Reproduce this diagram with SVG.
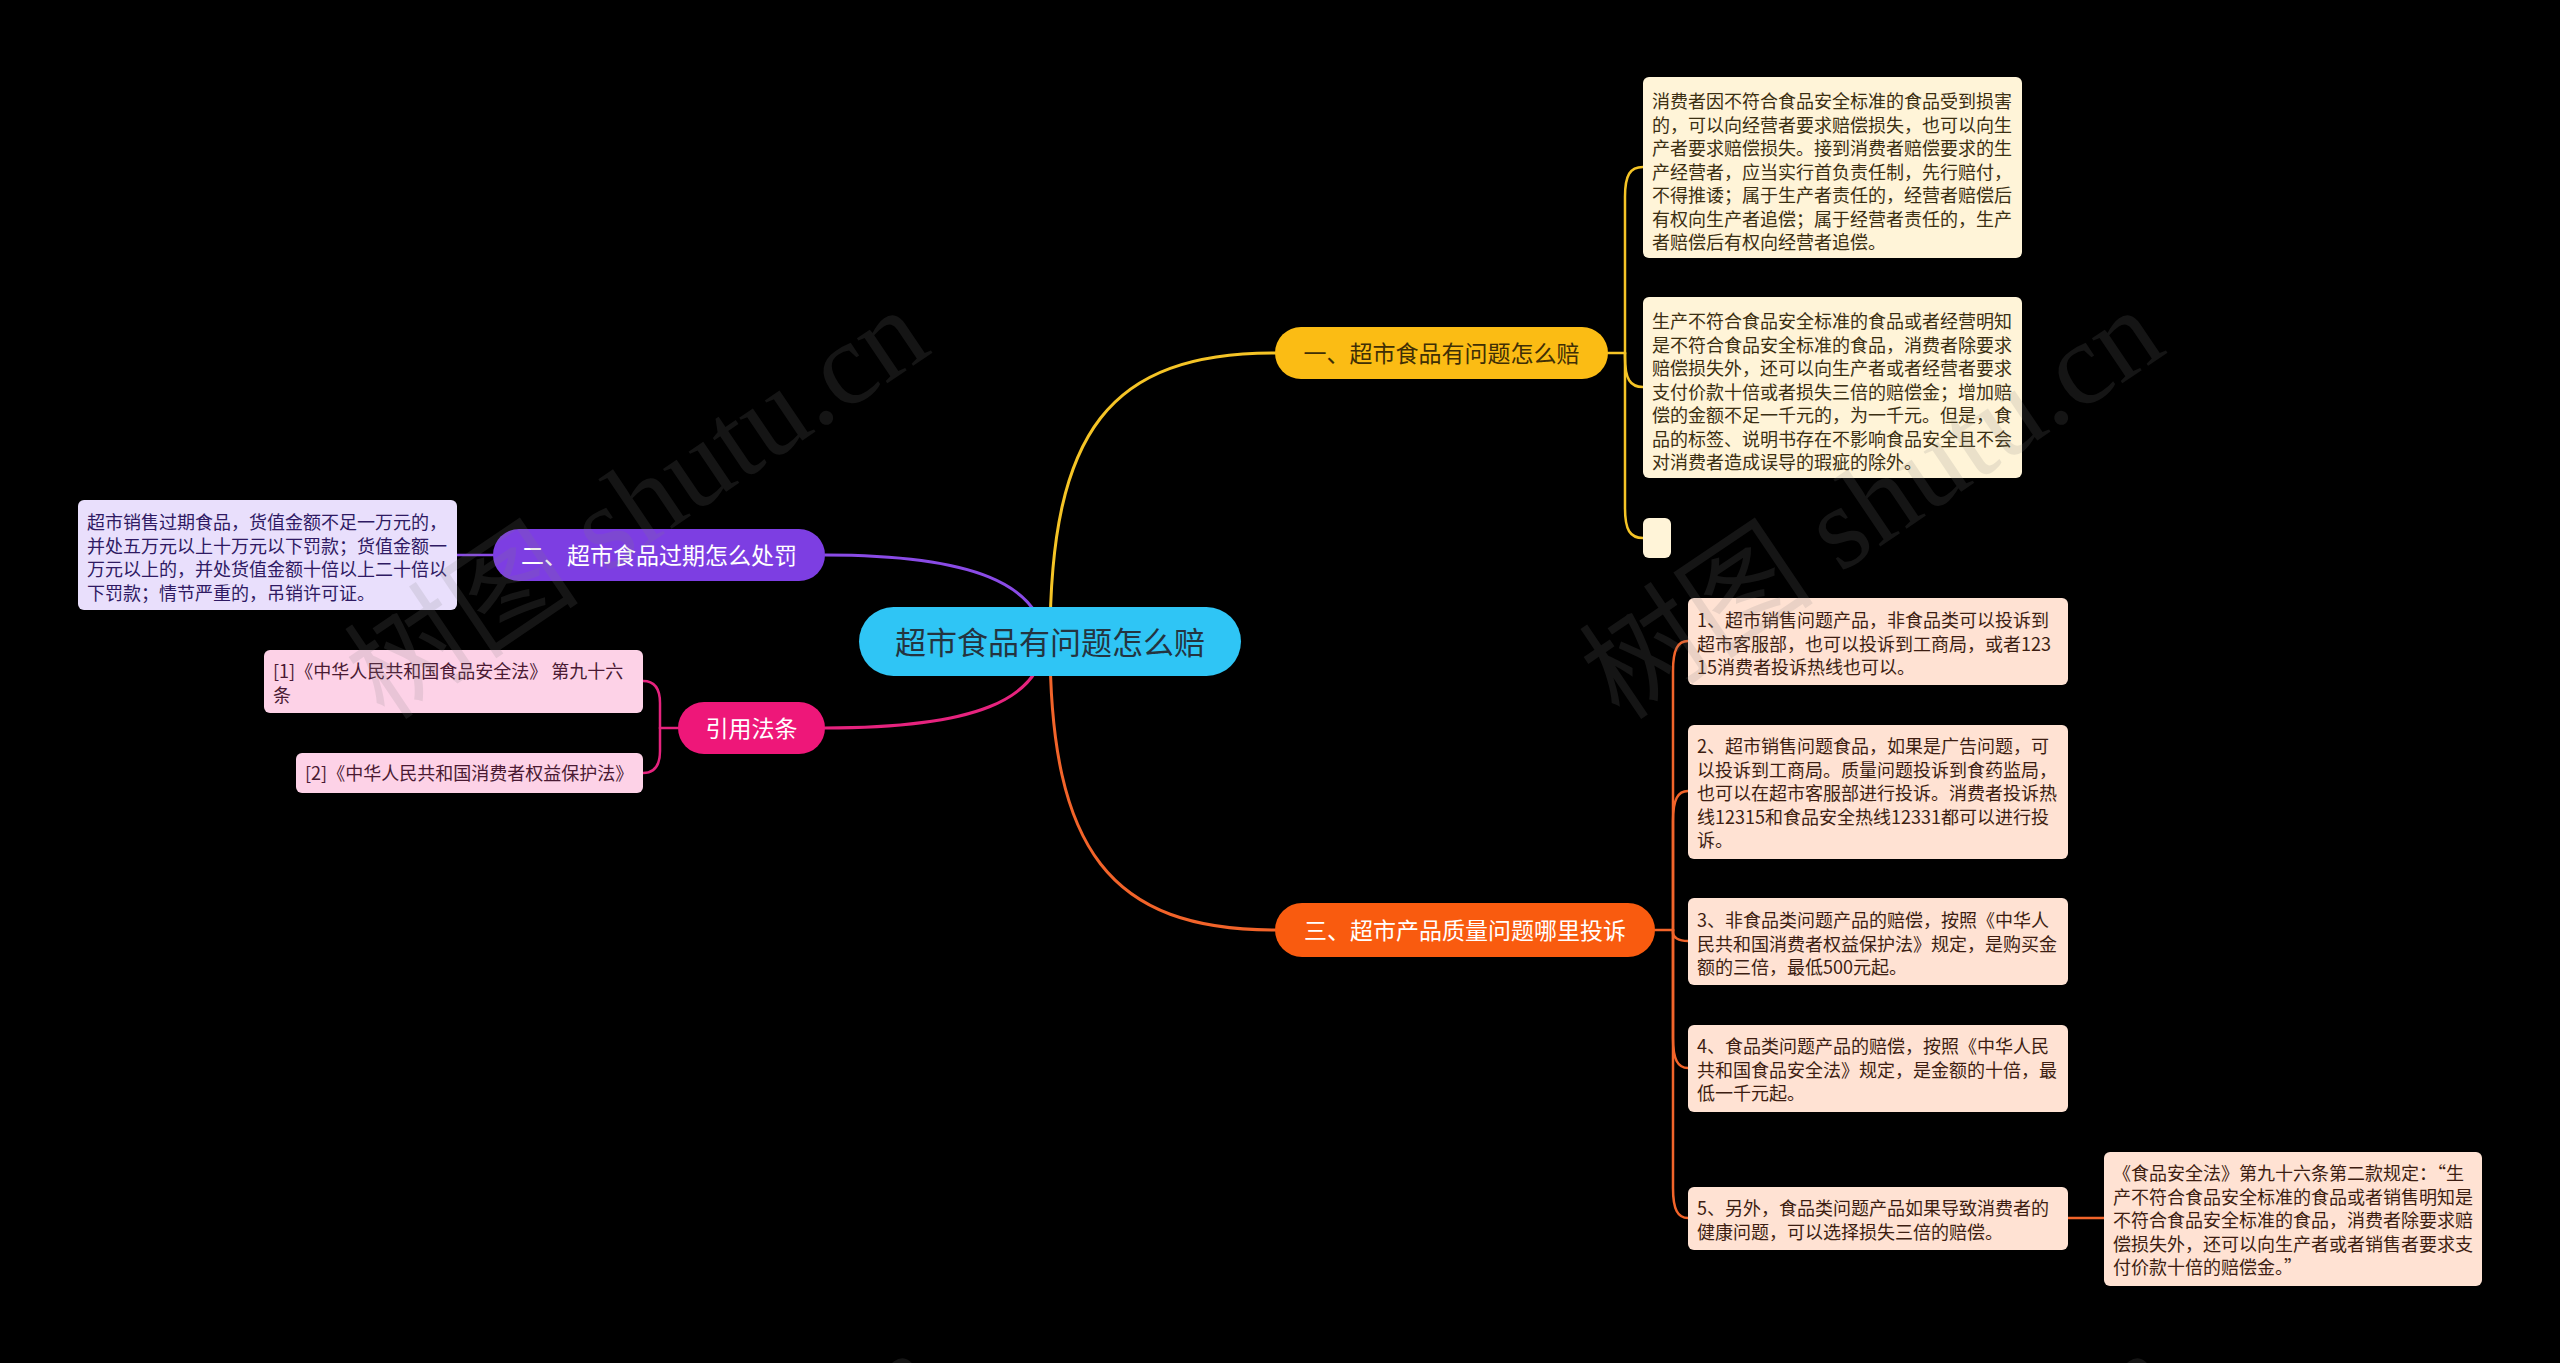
<svg xmlns="http://www.w3.org/2000/svg" width="2560" height="1363" viewBox="0 0 2560 1363">
<style>
text{font-family:"Noto Sans CJK SC","Noto Sans",sans-serif}
.t18{font-size:18px}
.wm{font-family:"Liberation Serif","Noto Sans CJK SC",serif;font-size:118px;fill:#808080;opacity:0.16}
.yb{fill:#FFF4D8}
.ob{fill:#FFE2D3}
.pb{fill:#E9DFFC}
.kb{fill:#FDD2E7}
.ytx{fill:#3B2F12}
.otx{fill:#3D1E12}
.ptx{fill:#2F1A63}
.ktx{fill:#4A1A33}
.c{fill:none;stroke-linecap:round}
</style>
<rect width="2560" height="1363" fill="#000"/>
<g id="connectors">
<path class="c" d="M1050 642 C1050 430,1110 353,1275 353" stroke="#F5C426" stroke-width="3"/>
<path class="c" d="M1050 642 C1050 850,1110 930,1275 930" stroke="#F2642A" stroke-width="3"/>
<path class="c" d="M825 555 C975 555,1040 585,1045 642" stroke="#8A4BE6" stroke-width="3"/>
<path class="c" d="M825 728 C975 728,1040 700,1045 642" stroke="#E6237E" stroke-width="3"/>
<g stroke="#F5C426" stroke-width="2.5" class="c">
<path d="M1608 353 H1625"/>
<path d="M1625 353 V197 C1625 175,1630 167,1643 167"/>
<path d="M1625 353 V357 C1625 379,1630 387,1643 387"/>
<path d="M1625 353 V508 C1625 530,1630 538,1643 538"/>
</g>
<g stroke="#F2642A" stroke-width="2.5" class="c">
<path d="M1655 930 H1673"/>
<path d="M1673 930 V671 C1673 649,1678 641,1688 641"/>
<path d="M1673 930 V821 C1673 799,1678 791,1688 791"/>
<path d="M1673 930 V933 C1673 937,1678 941,1688 941"/>
<path d="M1673 930 V1038 C1673 1060,1678 1068,1688 1068"/>
<path d="M1673 930 V1188 C1673 1210,1678 1218,1688 1218"/>
<path d="M2068 1218 H2104"/>
</g>
<path class="c" d="M493 555 H457" stroke="#8A4BE6" stroke-width="2.5"/>
<g stroke="#E6237E" stroke-width="2.5" class="c">
<path d="M678 728 H660"/>
<path d="M660 728 V703 C660 689,655 681,643 681"/>
<path d="M660 728 V751 C660 765,655 773,643 773"/>
</g>
</g>
<g id="root">
<rect x="859" y="607" width="382" height="69" rx="34.5" fill="#2FC5F5"/>
<text x="1050" y="654" font-size="31" text-anchor="middle" fill="#243440">超市食品有问题怎么赔</text>
</g>
<g id="n1">
<rect x="1275" y="327" width="333" height="52" rx="26" fill="#FBBC14"/>
<text x="1441.5" y="361.5" font-size="23" text-anchor="middle" fill="#3F2F05">一、超市食品有问题怎么赔</text>
</g>
<g id="n3">
<rect x="1275" y="903" width="380" height="54" rx="27" fill="#F95B0F"/>
<text x="1465" y="938.5" font-size="23" text-anchor="middle" fill="#fff">三、超市产品质量问题哪里投诉</text>
</g>
<g id="n2">
<rect x="493" y="529" width="332" height="52" rx="26" fill="#7D3EE2"/>
<text x="659" y="563.5" font-size="23" text-anchor="middle" fill="#fff">二、超市食品过期怎么处罚</text>
</g>
<g id="n4">
<rect x="678" y="702" width="147" height="52" rx="26" fill="#EE1779"/>
<text x="751.5" y="736.5" font-size="23" text-anchor="middle" fill="#fff">引用法条</text>
</g>
<g id="n1a">
<rect class="yb" x="1643" y="77" width="379" height="181" rx="6"/>
<text class="t18 ytx" x="1652"><tspan x="1652" y="108">消费者因不符合食品安全标准的食品受到损害</tspan><tspan x="1652" y="131.5">的，可以向经营者要求赔偿损失，也可以向生</tspan><tspan x="1652" y="155">产者要求赔偿损失。接到消费者赔偿要求的生</tspan><tspan x="1652" y="178.5">产经营者，应当实行首负责任制，先行赔付，</tspan><tspan x="1652" y="202">不得推诿；属于生产者责任的，经营者赔偿后</tspan><tspan x="1652" y="225.5">有权向生产者追偿；属于经营者责任的，生产</tspan><tspan x="1652" y="249">者赔偿后有权向经营者追偿。</tspan></text>
</g>
<g id="n1b">
<rect class="yb" x="1643" y="297" width="379" height="181" rx="6"/>
<text class="t18 ytx"><tspan x="1652" y="328">生产不符合食品安全标准的食品或者经营明知</tspan><tspan x="1652" y="351.5">是不符合食品安全标准的食品，消费者除要求</tspan><tspan x="1652" y="375">赔偿损失外，还可以向生产者或者经营者要求</tspan><tspan x="1652" y="398.5">支付价款十倍或者损失三倍的赔偿金；增加赔</tspan><tspan x="1652" y="422">偿的金额不足一千元的，为一千元。但是，食</tspan><tspan x="1652" y="445.5">品的标签、说明书存在不影响食品安全且不会</tspan><tspan x="1652" y="469">对消费者造成误导的瑕疵的除外。</tspan></text>
</g>
<g id="n1c">
<rect class="yb" x="1643" y="518" width="28" height="40" rx="6"/>
</g>
<g id="n3a">
<rect class="ob" x="1688" y="598" width="380" height="87" rx="6"/>
<text class="t18 otx"><tspan x="1697" y="627">1、超市销售问题产品，非食品类可以投诉到</tspan><tspan x="1697" y="650.5">超市客服部，也可以投诉到工商局，或者123</tspan><tspan x="1697" y="674">15消费者投诉热线也可以。</tspan></text>
</g>
<g id="n3b">
<rect class="ob" x="1688" y="725" width="380" height="134" rx="6"/>
<text class="t18 otx"><tspan x="1697" y="753">2、超市销售问题食品，如果是广告问题，可</tspan><tspan x="1697" y="776.5">以投诉到工商局。质量问题投诉到食药监局，</tspan><tspan x="1697" y="800">也可以在超市客服部进行投诉。消费者投诉热</tspan><tspan x="1697" y="823.5">线12315和食品安全热线12331都可以进行投</tspan><tspan x="1697" y="847">诉。</tspan></text>
</g>
<g id="n3c">
<rect class="ob" x="1688" y="898" width="380" height="87" rx="6"/>
<text class="t18 otx"><tspan x="1697" y="927">3、非食品类问题产品的赔偿，按照《中华人</tspan><tspan x="1697" y="950.5">民共和国消费者权益保护法》规定，是购买金</tspan><tspan x="1697" y="974">额的三倍，最低500元起。</tspan></text>
</g>
<g id="n3d">
<rect class="ob" x="1688" y="1025" width="380" height="87" rx="6"/>
<text class="t18 otx"><tspan x="1697" y="1053">4、食品类问题产品的赔偿，按照《中华人民</tspan><tspan x="1697" y="1076.5">共和国食品安全法》规定，是金额的十倍，最</tspan><tspan x="1697" y="1100">低一千元起。</tspan></text>
</g>
<g id="n3e">
<rect class="ob" x="1688" y="1187" width="380" height="63" rx="6"/>
<text class="t18 otx"><tspan x="1697" y="1215">5、另外，食品类问题产品如果导致消费者的</tspan><tspan x="1697" y="1238.5">健康问题，可以选择损失三倍的赔偿。</tspan></text>
</g>
<g id="n3e1">
<rect class="ob" x="2104" y="1152" width="378" height="134" rx="6"/>
<text class="t18 otx"><tspan x="2113" y="1180">《食品安全法》第九十六条第二款规定：“生</tspan><tspan x="2113" y="1203.5">产不符合食品安全标准的食品或者销售明知是</tspan><tspan x="2113" y="1227">不符合食品安全标准的食品，消费者除要求赔</tspan><tspan x="2113" y="1250.5">偿损失外，还可以向生产者或者销售者要求支</tspan><tspan x="2113" y="1274">付价款十倍的赔偿金。”</tspan></text>
</g>
<g id="n2a">
<rect class="pb" x="78" y="500" width="379" height="110" rx="6"/>
<text class="t18 ptx"><tspan x="87" y="529">超市销售过期食品，货值金额不足一万元的，</tspan><tspan x="87" y="552.5">并处五万元以上十万元以下罚款；货值金额一</tspan><tspan x="87" y="576">万元以上的，并处货值金额十倍以上二十倍以</tspan><tspan x="87" y="599.5">下罚款；情节严重的，吊销许可证。</tspan></text>
</g>
<g id="n4a">
<rect class="kb" x="264" y="650" width="379" height="63" rx="6"/>
<text class="t18 ktx"><tspan x="273" y="678">[1]《中华人民共和国食品安全法》 第九十六</tspan><tspan x="273" y="701.5">条</tspan></text>
</g>
<g id="n4b">
<rect class="kb" x="296" y="753" width="347" height="40" rx="6"/>
<text class="t18 ktx" x="305" y="780">[2]《中华人民共和国消费者权益保护法》</text>
</g>
<g id="watermarks">
<text class="wm" x="385" y="722" transform="rotate(-34 385 722)">树图 shutu.cn</text>
<text class="wm" x="1620" y="722" transform="rotate(-34 1620 722)">树图 shutu.cn</text>
<text class="wm" x="395" y="1765" transform="rotate(-34 395 1765)">树图 shutu.cn</text>
<text class="wm" x="1630" y="1765" transform="rotate(-34 1630 1765)">树图 shutu.cn</text>
</g>
</svg>
